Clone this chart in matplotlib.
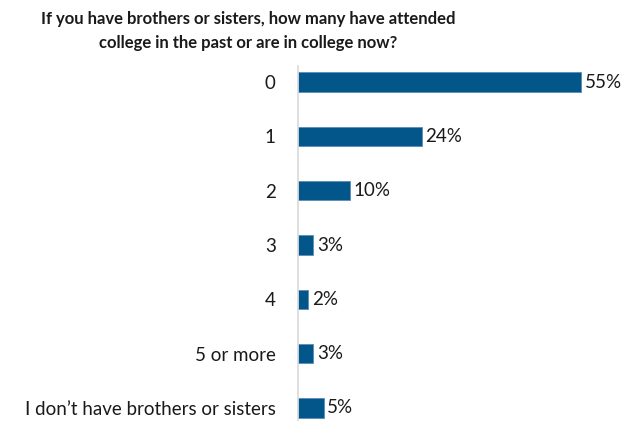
import matplotlib
matplotlib.use("Agg")
import matplotlib.pyplot as plt

categories = ["0", "1", "2", "3", "4", "5 or more", "I don\u2019t have brothers or sisters"]
values = [55, 24, 10, 3, 2, 3, 5]
title = "If you have brothers or sisters, how many have attended\ncollege in the past or are in college now?"

plt.rcParams['font.family'] = ['Lato', 'DejaVu Sans']

fig = plt.figure(figsize=(6.35, 4.21), dpi=100)
ax = fig.add_axes([298/635, 1-420/421, 309/635, 354/421])

ypos = list(range(len(categories)))
ax.barh(ypos, values, height=0.35, color='#03568A', edgecolor='#5B8DB5', linewidth=0.6)
for y, v in zip(ypos, values):
    ax.text(v + 0.7, y, f"{v}%", va='center', ha='left', fontsize=13.5, color='#1a1a1a')

ax.set_xlim(0, 60)
ax.set_ylim(6 + 12/54.33, -16/54.33)
ax.set_yticks(ypos)
ax.set_yticklabels(categories, fontsize=13.5, color='#1a1a1a')
ax.tick_params(axis='y', length=0, pad=16)
ax.set_xticks([])
for s in ['top', 'right', 'bottom']:
    ax.spines[s].set_visible(False)
ax.spines['left'].set_color('#D9D9D9')
ax.spines['left'].set_linewidth(1.2)

fig.text(248/635, 1-31/421, title, ha='center', va='center', fontsize=12, fontweight='bold', color='#1a1a1a', linespacing=1.6)

fig.savefig("out.png", dpi=100)
